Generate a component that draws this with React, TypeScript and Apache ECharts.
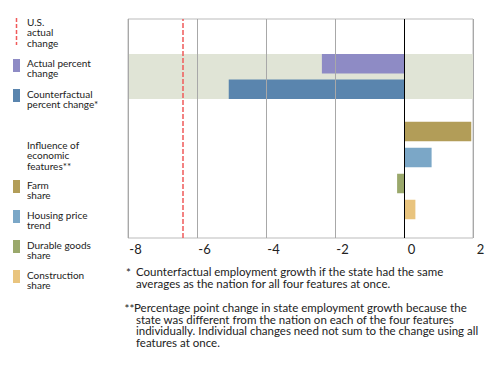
import React, { useEffect, useRef } from "react";
import * as echarts from "echarts";

const X_MIN = -8;
const X_MAX = 2;
const X_STEP = 2;

const US_ACTUAL_CHANGE = -6.4;

const TOTAL_NAMES = ["Actual percent change", "Counterfactual percent change*"];
const TOTAL_VALUES = [-2.38, -5.08];
const TOTAL_COLORS = ["#8e8bc5", "#5a85ae"];

const FEATURE_NAMES = ["Farm share", "Housing price trend", "Durable goods share", "Construction share"];
const FEATURE_VALUES = [1.95, 0.8, -0.2, 0.33];
const FEATURE_COLORS = ["#b29d58", "#7ba7c7", "#9aa86b", "#e9c47e"];

const LEGEND_TEXT = [
  "Actual percent\nchange",
  "Counterfactual\npercent change*",
  "Farm\nshare",
  "Housing price\ntrend",
  "Durable goods\nshare",
  "Construction\nshare",
];

const FONT = "Lato, 'Open Sans', sans-serif";

export default function App() {
  const ref = useRef<HTMLDivElement>(null);

  useEffect(() => {
    if (!ref.current) return;
    const chart = echarts.init(ref.current, null, { renderer: "svg" });

    const L = 128;
    const W = 345;
    const R = 500 - L - W;
    const hiddenX = (gi: number) => ({
      type: "value",
      gridIndex: gi,
      min: X_MIN,
      max: X_MAX,
      interval: X_STEP,
      show: false,
    });

    const legendColors = [...TOTAL_COLORS, ...FEATURE_COLORS];
    const legendTops = [57.5, 88.5, 179.5, 209.5, 239.5, 269.5];
    const swatchTops = [59, 89, 180, 210, 240, 270];

    const txt = (x: number, y: number, text: string, size = 10, lh = 10.4) => ({
      type: "text",
      x,
      y,
      style: {
        text,
        font: `${size}px ${FONT}`,
        lineHeight: lh,
        fill: "#222",
        textVerticalAlign: "top",
        textAlign: "left",
      },
    });

    const graphic: any[] = [
      {
        type: "line",
        shape: { x1: 16.5, y1: 18, x2: 16.5, y2: 45 },
        style: { stroke: "#f05a5a", lineWidth: 1.5, lineDash: [4, 2] },
      },
      txt(27, 16.5, "U.S.\nactual\nchange"),
      txt(27, 139.5, "Influence of\neconomic\nfeatures**"),
    ];
    legendColors.forEach((c, i) => {
      graphic.push({
        type: "rect",
        shape: { x: 13, y: swatchTops[i], width: 7, height: 13 },
        style: { fill: c },
      });
      graphic.push(txt(27, legendTops[i], LEGEND_TEXT[i]));
    });
    graphic.push(txt(126, 267, "*", 11.5, 11.5));
    graphic.push(
      txt(
        136,
        266,
        "Counterfactual employment growth if the state had the same\naverages as the nation for all four features at once.",
        11.5,
        11.5
      )
    );
    graphic.push(txt(124.5, 303, "**", 11.5, 11.5));
    graphic.push(
      txt(
        134,
        302,
        "Percentage point change in state employment growth because the",
        11.5,
        11.5
      )
    );
    graphic.push(
      txt(
        136,
        313.5,
        "state was different from the nation on each of the four features\nindividually. Individual changes need not sum to the change using all\nfeatures at once.",
        11.5,
        11.5
      )
    );

    chart.setOption({
      animation: false,
      grid: [
        {
          left: L,
          right: R,
          top: 19,
          bottom: 368 - 238,
          show: true,
          borderColor: "#bbbbbb",
          borderWidth: 1,
          backgroundColor: "transparent",
        },
        {
          left: L,
          right: R,
          top: 54,
          height: 45,
          show: true,
          borderWidth: 0,
          backgroundColor: "#e0e4d6",
        },
        {
          left: L,
          right: R,
          top: 118.5,
          height: 104,
        },
      ],
      xAxis: [
        {
          type: "value",
          gridIndex: 0,
          min: X_MIN,
          max: X_MAX,
          interval: X_STEP,
          z: 5,
          axisLine: { show: false },
          axisTick: { show: false },
          splitLine: { show: true, lineStyle: { color: "#a8a8a8", width: 1 } },
          axisLabel: {
            color: "#222",
            fontSize: 13,
            fontFamily: FONT,
            margin: 4,
            padding: [0, 0, 0, 15],
          },
        },
        hiddenX(1),
        hiddenX(2),
      ],
      yAxis: [
        { type: "value", gridIndex: 0, min: 0, max: 1, show: false },
        { type: "category", gridIndex: 1, data: ["Total"], show: false },
        { type: "category", gridIndex: 2, data: FEATURE_NAMES, inverse: true, show: false },
      ],
      series: [
        {
          type: "line",
          xAxisIndex: 0,
          yAxisIndex: 0,
          data: [],
          markLine: {
            silent: true,
            symbol: ["none", "none"],
            label: { show: false },
            data: [
              {
                xAxis: US_ACTUAL_CHANGE,
                lineStyle: { color: "#f05a5a", type: [5, 2], width: 1.5 },
              },
              { xAxis: 0, lineStyle: { color: "#000", type: "solid", width: 1 } },
            ],
          },
        },
        ...TOTAL_NAMES.map((name, i) => ({
          type: "bar",
          name,
          xAxisIndex: 1,
          yAxisIndex: 1,
          barWidth: 19.5,
          barGap: "31%",
          data: [TOTAL_VALUES[i]],
          itemStyle: { color: TOTAL_COLORS[i] },
        })),
        {
          type: "bar",
          name: "Influence",
          xAxisIndex: 2,
          yAxisIndex: 2,
          barWidth: 19.5,
          data: FEATURE_VALUES.map((v, i) => ({
            value: v,
            itemStyle: { color: FEATURE_COLORS[i] },
          })),
        },
      ],
      graphic,
    });

    return () => chart.dispose();
  }, []);

  return (
    <div
      ref={ref}
      style={{ position: "fixed", left: 0, top: 0, width: 500, height: 368, background: "#fff" }}
    />
  );
}
